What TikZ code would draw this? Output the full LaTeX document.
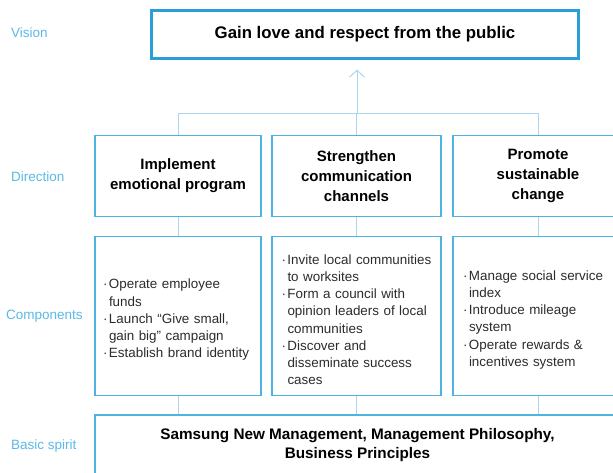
\documentclass[tikz,border=0pt]{standalone}
\usepackage{fontspec}
\setmainfont{Liberation Sans}
\usetikzlibrary{arrows.meta}
\definecolor{framebl}{HTML}{2A9FD6}
\definecolor{boxbl}{HTML}{4DB3E2}
\definecolor{linkbl}{HTML}{A9D5EF}
\definecolor{labelbl}{HTML}{5AB9E6}
\definecolor{txtgray}{HTML}{2B2B2B}
\newcommand{\bul}{\par\hyphenpenalty=10000\exhyphenpenalty=10000\lefthyphenmin=62\righthyphenmin=62\hangindent=6pt\hangafter=1\noindent\makebox[6pt][l]{·}}

\begin{document}
\begin{tikzpicture}[x=1pt,y=-1pt,
  level/.style={labelbl,anchor=west,inner sep=0pt,font=\fontsize{13.5}{15}\selectfont},
  dirbox/.style={draw=boxbl,line width=1.3pt,minimum height=81pt,align=center,text=black,font=\fontsize{15}{20}\selectfont\bfseries},
  compbox/.style={draw=boxbl,line width=1.3pt,minimum height=159pt,align=left,text width=150pt,text=txtgray,font={\fontsize{13.4}{17.2}\selectfont\hyphenpenalty=10000}},
  link/.style={linkbl,line width=1pt}]
\useasboundingbox (0,0) rectangle (613,472);
\coordinate (V) at (365,34);
\coordinate (D1) at (178,176);
\coordinate (D2) at (356.5,176);
\coordinate (D3) at (538,176);
\coordinate (C1) at (178,316);
\coordinate (C2) at (356.5,316);
\coordinate (C3) at (538,316);
\coordinate (S) at (357.5,445);
\coordinate (bus) at (357,113);
\node[level] (lvision) at (11,33) {Vision};
\node[level] (ldirection) at (11,177) {Direction};
\node[level] (lcomponents) at (6,316) {Components};
\node[level] (lspirit) at (11,446) {Basic spirit};
\node[draw=framebl,line width=3pt,minimum width=427pt,minimum height=48pt,font=\fontsize{16.8}{20}\selectfont\bfseries] (vision) at (V) {Gain love and respect from the public};
\node[dirbox,minimum width=166pt] (dir1) at (D1) {Implement\\emotional program};
\node[dirbox,minimum width=169pt] (dir2) at (D2) {Strengthen\\communication\\channels};
\node[dirbox,minimum width=170pt] (dir3) at (D3) {Promote\\sustainable\\change};
\node[compbox,inner xsep=8pt] (comp1) at (C1) {\bul Operate employee funds\bul Launch “Give small, gain big” campaign\bul Establish brand identity\par};
\node[compbox,inner xsep=9.5pt] (comp2) at (C2) {\bul Invite local communities to worksites\bul Form a council with opinion leaders of local communities\bul Discover and disseminate success cases\par};
\node[compbox,inner xsep=10pt] (comp3) at (C3) {\bul Manage social service index\bul Introduce mileage system\bul Operate rewards \& incentives system\par};
\node[draw=boxbl,line width=1.3pt,minimum width=525pt,minimum height=60pt,align=center,font=\fontsize{15.3}{19}\selectfont\bfseries] (spirit) at (S) {Samsung New Management, Management Philosophy,\\Business Principles};
\draw[link] (dir1.north) -- (dir1.north |- bus) -- (dir3.north |- bus) -- (dir3.north);
\draw[link] (dir2.north) -- (dir2.north |- bus);
\draw[link,-{Straight Barb[length=7pt,width=15pt]},shorten >=10pt] (bus) -- (bus |- vision.south);
\draw[link] (dir1.south) -- (comp1.north);
\draw[link] (dir2.south) -- (comp2.north);
\draw[link] (dir3.south) -- (comp3.north);
\draw[link] (comp1.south) -- (comp1.south |- spirit.north);
\draw[link] (comp2.south) -- (comp2.south |- spirit.north);
\draw[link] (comp3.south) -- (comp3.south |- spirit.north);
\end{tikzpicture}
\end{document}
